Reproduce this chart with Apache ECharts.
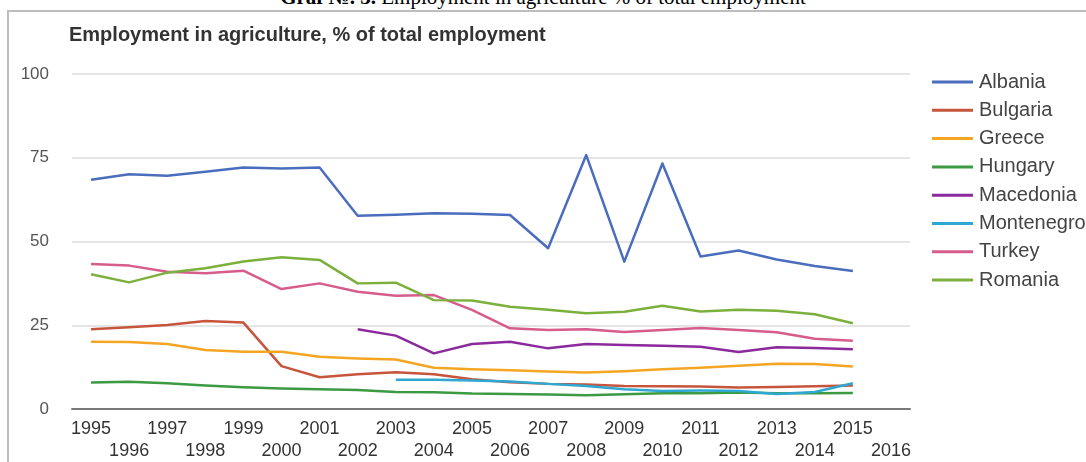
<!DOCTYPE html>
<html>
<head>
<meta charset="utf-8">
<script src="https://cdn.jsdelivr.net/npm/echarts@6/dist/echarts.min.js"></script>
<style>
  html, body { margin: 0; padding: 0; background: #fff; overflow: hidden; }
  #page { position: relative; width: 1086px; height: 462px; overflow: hidden; background: #fff; }
  #caption {
    position: absolute; left: 0; width: 1086px; top: -13px;
    text-align: center; font-family: "Liberation Serif", "Times New Roman", serif;
    font-size: 21px; line-height: 21px; color: #000; white-space: nowrap;
  }
  #frame {
    position: absolute; left: 7px; top: 10px; width: 1100px; height: 470px;
    border-top: 2px solid #bdbdbd; border-left: 2px solid #bdbdbd;
  }
  #chart { position: absolute; left: 0; top: 0; width: 1086px; height: 462px; }
</style>
</head>
<body>
<div id="page">
  <div id="caption"><b>Graf №. 3.</b> Employment in agriculture % of total employment</div>
  <div id="frame"></div>
  <div id="chart"></div>
</div>
<script>
// Years shown on the category axis (2016 has a label but no data yet)
const years = ['1995','1996','1997','1998','1999','2000','2001','2002','2003','2004','2005',
               '2006','2007','2008','2009','2010','2011','2012','2013','2014','2015','2016'];

// Share of employment in agriculture, % of total employment, 1995-2015
const albania    = [68.4, 70.1, 69.6, 70.8, 72.1, 71.8, 72.1, 57.7, 58.0, 58.4, 58.3,
                    57.9, 48.0, 75.8, 44.0, 73.3, 45.5, 47.3, 44.6, 42.7, 41.2];
const bulgaria   = [23.8, 24.4, 25.1, 26.3, 25.8, 12.8, 9.5, 10.4, 11.0, 10.4, 8.9,
                    8.0, 7.5, 7.3, 6.9, 6.8, 6.7, 6.4, 6.6, 6.8, 7.0];
const greece     = [20.1, 20.0, 19.4, 17.6, 17.1, 17.1, 15.6, 15.1, 14.8, 12.3, 11.9,
                    11.6, 11.2, 10.9, 11.3, 11.9, 12.3, 12.9, 13.5, 13.4, 12.7];
const hungary    = [7.9, 8.1, 7.7, 7.0, 6.5, 6.1, 5.9, 5.7, 5.1, 5.0, 4.6,
                    4.5, 4.3, 4.1, 4.4, 4.7, 4.7, 4.9, 4.7, 4.7, 4.8];
const macedonia  = [null, null, null, null, null, null, null, 23.8, 21.9, 16.6, 19.4,
                    20.1, 18.1, 19.4, 19.1, 18.9, 18.6, 17.0, 18.4, 18.2, 17.8];
const montenegro = [null, null, null, null, null, null, null, null, 8.7, 8.7, 8.5,
                    8.2, 7.5, 6.9, 5.9, 5.4, 5.5, 5.4, 4.5, 5.1, 7.7];
const turkey     = [43.3, 42.8, 41.0, 40.5, 41.3, 35.8, 37.5, 35.0, 33.8, 34.0, 29.6,
                    24.1, 23.6, 23.8, 23.0, 23.6, 24.2, 23.6, 22.9, 21.0, 20.4];
const romania    = [40.2, 37.8, 40.7, 42.0, 44.0, 45.3, 44.5, 37.5, 37.7, 32.5, 32.4,
                    30.5, 29.6, 28.6, 29.0, 30.8, 29.1, 29.6, 29.3, 28.3, 25.6];

// Y axis ticks
const yTicks = [0, 25, 50, 75, 100];

const countries = [
  { name: 'Albania',    data: albania,    color: '#4a6dbd' },
  { name: 'Bulgaria',   data: bulgaria,   color: '#c6553c' },
  { name: 'Greece',     data: greece,     color: '#f4a623' },
  { name: 'Hungary',    data: hungary,    color: '#3b9a42' },
  { name: 'Macedonia',  data: macedonia,  color: '#8b2a9c' },
  { name: 'Montenegro', data: montenegro, color: '#2ea8d2' },
  { name: 'Turkey',     data: turkey,     color: '#d65c8c' },
  { name: 'Romania',    data: romania,    color: '#7cb03c' }
];

const FONT = 'Arial, "Liberation Sans", sans-serif';
const chart = echarts.init(document.getElementById('chart'), null, { renderer: 'canvas' });

chart.setOption({
  animation: false,
  backgroundColor: 'transparent',
  textStyle: { fontFamily: FONT },
  title: {
    text: 'Employment in agriculture, % of total employment',
    left: 69, top: 25, padding: 0,
    textStyle: { fontFamily: FONT, fontSize: 20, fontWeight: 'bold', color: '#333' }
  },
  legend: {
    orient: 'vertical',
    left: 932, top: 72, padding: 0,
    itemWidth: 41, itemHeight: 3, itemGap: 8.3,
    icon: 'rect',
    data: countries.map(c => ({ name: c.name, itemStyle: { color: c.color } })),
    itemStyle: { borderWidth: 0 },
    textStyle: { fontFamily: FONT, fontSize: 20, color: '#444', lineHeight: 20, padding: [0, 0, 0, 1] }
  },
  grid: { left: 72, right: 176, top: 74, bottom: 52 },
  xAxis: {
    type: 'category',
    data: years,
    boundaryGap: true,
    axisLine: { lineStyle: { color: '#7a7a7a', width: 2 } },
    axisTick: { show: false },
    axisLabel: {
      interval: 0, margin: 9, fontSize: 18, lineHeight: 22, color: '#333', fontFamily: FONT,
      formatter: (v, i) => (i % 2 ? '\n' + v : v)
    }
  },
  yAxis: {
    type: 'value',
    min: yTicks[0], max: yTicks[yTicks.length - 1], interval: 25,
    axisLine: { show: false },
    axisTick: { show: false },
    axisLabel: { margin: 23, fontSize: 17, color: '#555', fontFamily: FONT },
    splitLine: { lineStyle: { color: '#dcdcdc', width: 1.5 } }
  },
  series: countries.map(c => ({
    name: c.name,
    type: 'line',
    data: c.data,
    symbol: 'none',
    connectNulls: false,
    color: c.color,
    lineStyle: { color: c.color, width: 2.5, join: 'round' }
  }))
});
</script>
</body>
</html>
